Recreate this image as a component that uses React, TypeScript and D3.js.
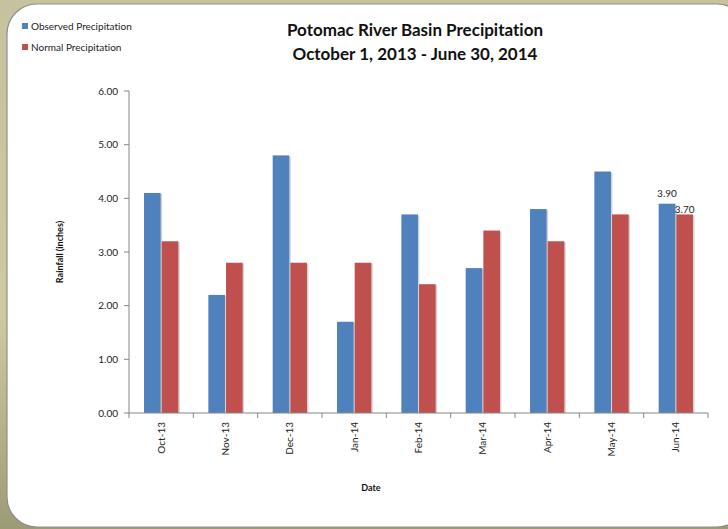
import * as d3 from "d3";

const months = ["Oct-13", "Nov-13", "Dec-13", "Jan-14", "Feb-14", "Mar-14", "Apr-14", "May-14", "Jun-14"];
const observed = [4.1, 2.2, 4.8, 1.7, 3.7, 2.7, 3.8, 4.5, 3.9];
const normal = [3.2, 2.8, 2.8, 2.8, 2.4, 3.4, 3.2, 3.7, 3.7];
const yTicks = [0, 1, 2, 3, 4, 5, 6];
const seriesNames = ["Observed Precipitation", "Normal Precipitation"];
const seriesColors = ["#4f81bd", "#c0504d"];

const W = 728;
const H = 529;
const font = "Lato, 'Liberation Sans', sans-serif";

export default function App() {
  const x = d3.scaleBand().domain(months).range([129, 708]).paddingInner(0).paddingOuter(0);
  const inner = d3.scaleBand().domain(["obs", "norm"]).range([0, x.bandwidth()]).paddingInner(0.06).paddingOuter(0.85);
  const y = d3.scaleLinear().domain([0, 6]).range([413, 91]);
  const series = [observed, normal];
  const keys = ["obs", "norm"];
  const last = months.length - 1;

  return (
    <svg width={W} height={H} style={{ position: "absolute", left: 0, top: 0, fontVariantLigatures: "none" }} fontFamily={font}>
      <defs>
        <linearGradient id="bg" x1="0" y1="0" x2="0" y2="1">
          <stop offset="0" stopColor="#c6c19f" />
          <stop offset="0.6" stopColor="#cfc9a0" />
          <stop offset="1" stopColor="#9d9b76" />
        </linearGradient>
      </defs>
      <rect width={W} height={H} fill="url(#bg)" />
      <rect x={7} y={4} width={740} height={523} rx={30} ry={30} fill="#fff" stroke="#8f8f8f" strokeWidth={1.2} />

      <text x={415} y={36} textAnchor="middle" fontSize={17} fontWeight="bold" fill="#111">Potomac River Basin Precipitation</text>
      <text x={415} y={60} textAnchor="middle" fontSize={17} fontWeight="bold" fill="#111">October 1, 2013 - June 30, 2014</text>

      {seriesNames.map((name, i) => (
        <g key={name} transform={`translate(22, ${26 + i * 21})`}>
          <rect x={0} y={-3} width={6} height={6} fill={seriesColors[i]} />
          <text x={9} y={3.5} fontSize={10} fill="#222">{name}</text>
        </g>
      ))}

      {yTicks.map((t) => (
        <g key={t}>
          <line x1={124} x2={129} y1={y(t)} y2={y(t)} stroke="#868686" />
          <text x={118} y={y(t) + 3.5} textAnchor="end" fontSize={10} fill="#222">{t.toFixed(2)}</text>
        </g>
      ))}

      {months.map((m, i) => (
        <g key={m}>
          {series.map((vals, s) => {
            const bx = (x(m) ?? 0) + (inner(keys[s]) ?? 0);
            const bw = inner.bandwidth();
            return (
              <g key={s}>
                <rect x={bx + 1.5} y={y(vals[i]) + 1} width={bw} height={y(0) - y(vals[i]) - 1} fill="#d4d4d4" />
                <rect x={bx} y={y(vals[i])} width={bw} height={y(0) - y(vals[i])} fill={seriesColors[s]} />
              </g>
            );
          })}
        </g>
      ))}

      <line x1={129} x2={129} y1={y(6)} y2={y(0)} stroke="#868686" />
      <line x1={129} x2={708} y1={y(0)} y2={y(0)} stroke="#868686" />
      {d3.range(months.length + 1).map((i) => {
        const tx = 129 + i * x.step();
        return <line key={i} x1={tx} x2={tx} y1={y(0)} y2={y(0) + 5} stroke="#868686" />;
      })}

      {months.map((m) => {
        const cx = (x(m) ?? 0) + x.bandwidth() / 2;
        return (
          <text key={m} transform={`translate(${cx + 3.5}, 422) rotate(-90)`} textAnchor="end" fontSize={10} fill="#222">{m}</text>
        );
      })}

      <text x={(x(months[last]) ?? 0) + (inner("obs") ?? 0) + inner.bandwidth() / 2} y={y(observed[last]) - 7} textAnchor="middle" fontSize={10} fill="#222">{observed[last].toFixed(2)}</text>
      <text x={(x(months[last]) ?? 0) + (inner("norm") ?? 0) + inner.bandwidth() / 2} y={y(normal[last]) - 1} textAnchor="middle" fontSize={10} fill="#222">{normal[last].toFixed(2)}</text>

      <text transform={`translate(63, 252) rotate(-90)`} textAnchor="middle" fontSize={9} fontWeight="bold" fill="#111">Rainfall (inches)</text>
      <text x={371} y={491} textAnchor="middle" fontSize={9} fontWeight="bold" fill="#111">Date</text>
    </svg>
  );
}
